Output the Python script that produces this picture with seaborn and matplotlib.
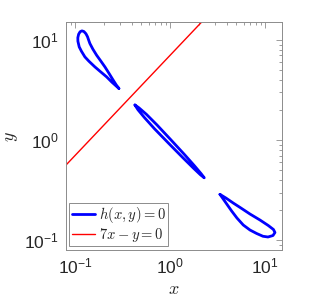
import numpy as np
import pandas as pd
import matplotlib
matplotlib.use("Agg")
import matplotlib.pyplot as plt
import seaborn as sns
from matplotlib.lines import Line2D
from matplotlib.ticker import LogLocator, NullFormatter

# ---- data ----
loop1_x = [0.2905, 0.2452, 0.2157, 0.1833, 0.1623, 0.1404, 0.1274, 0.1171, 0.1110,
           0.1075, 0.1073, 0.1094, 0.1134, 0.1185, 0.1244, 0.1306, 0.1357, 0.1397,
           0.1438, 0.1547, 0.1692, 0.1878, 0.2069, 0.2279, 0.2530, 0.2734]
loop1_y = [3.278, 3.786, 4.277, 4.874, 5.381, 6.133, 6.768, 7.715, 8.516,
           9.705, 10.52, 11.40, 12.07, 12.32, 12.13, 11.53, 10.76, 9.931,
           9.207, 8.077, 7.039, 6.133, 5.381, 4.656, 3.965, 3.534]

loop2_x = [0.4281, 0.4720, 0.5650, 0.7300, 1.020, 1.420, 1.812, 2.126, 2.296,
           2.093, 1.760, 1.356, 0.9640, 0.6880, 0.5370, 0.4600]
loop2_y = [2.243, 2.100, 1.810, 1.418, 1.010, 0.7190, 0.5540, 0.4630, 0.4208,
           0.4510, 0.5270, 0.6730, 0.9340, 1.298, 1.686, 2.013]

loop3_x = [3.359, 3.702, 4.462, 5.074, 5.910, 6.952, 8.178, 9.526, 10.755,
           12.14, 12.74, 12.29, 10.83, 8.859, 6.952, 5.590, 4.638, 3.886]
loop3_y = [0.2874, 0.2522, 0.1959, 0.1668, 0.1421, 0.1267, 0.1169, 0.1097, 0.1079,
           0.1116, 0.1196, 0.1281, 0.1405, 0.1594, 0.1830, 0.2099, 0.2354, 0.2641]

line_x = [0.08, 15.0 / 7.0]
line_y = [0.56, 15.0]

legend_labels = [r"$h(x,y)=0$", r"$7x-y=0$"]
x_limits = [0.08, 15.0]
y_limits = [0.08, 15.0]

# ---- build table ----
frames = []
for i, (lx, ly) in enumerate([(loop1_x, loop1_y), (loop2_x, loop2_y), (loop3_x, loop3_y)]):
    xs = list(lx) + [lx[0]]
    ys = list(ly) + [ly[0]]
    frames.append(pd.DataFrame({"x": xs, "y": ys, "loop": i}))
df = pd.concat(frames, ignore_index=True)

sns.set_style("white")
plt.rcParams["font.family"] = ["Liberation Sans", "DejaVu Sans"]
plt.rcParams["mathtext.fontset"] = "cm"

fig = plt.figure(figsize=(3.12, 3.05), dpi=100)
ax = fig.add_axes([0.2106, 0.1803, 0.6923, 0.7466])

sns.lineplot(data=df, x="x", y="y", units="loop", estimator=None, sort=False,
             color="blue", lw=2.0, ax=ax, legend=False,
             solid_joinstyle="round", solid_capstyle="round")
sns.lineplot(x=line_x, y=line_y, color="red", lw=1.0, ax=ax, legend=False)

ax.set_xscale("log")
ax.set_yscale("log")
ax.set_xlim(*x_limits)
ax.set_ylim(*y_limits)

ax.xaxis.set_major_locator(LogLocator(base=10, numticks=10))
ax.yaxis.set_major_locator(LogLocator(base=10, numticks=10))
ax.xaxis.set_minor_locator(LogLocator(base=10, subs=np.arange(2, 10), numticks=20))
ax.yaxis.set_minor_locator(LogLocator(base=10, subs=np.arange(2, 10), numticks=20))
ax.xaxis.set_minor_formatter(NullFormatter())
ax.yaxis.set_minor_formatter(NullFormatter())

gray = "#8c8c8c"
for s in ax.spines.values():
    s.set_visible(True)
    s.set_color(gray)
    s.set_linewidth(0.7)
ax.tick_params(which="both", direction="in", top=True, right=True,
               color=gray, width=0.6, labelcolor="#262626", labelsize=12.5)
ax.tick_params(which="major", length=4, pad=5)
ax.tick_params(which="minor", length=2)

ax.set_xlabel(r"$x$", fontsize=13, color="#262626", labelpad=3)
ax.set_ylabel(r"$y$", fontsize=13, color="#262626", labelpad=3)

handles = [Line2D([], [], color="blue", lw=2.0), Line2D([], [], color="red", lw=1.0)]
leg = ax.legend(handles, legend_labels, loc="lower left", fontsize=10.5,
                frameon=True, fancybox=False, edgecolor=gray, framealpha=1,
                borderpad=0.15, handlelength=1.6, handletextpad=0.3,
                labelspacing=0.05, borderaxespad=0.25)
leg.get_frame().set_linewidth(0.7)

fig.savefig("out.png", dpi=100)
